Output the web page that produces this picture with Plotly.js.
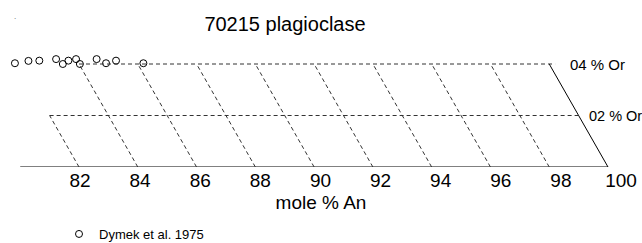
<!DOCTYPE html>
<html>
<head>
<meta charset="utf-8">
<script src="https://cdn.plot.ly/plotly-3.0.1.min.js"></script>
<style>html,body{margin:0;padding:0;background:#fff;}#chart{width:642px;height:243px;}</style>
</head>
<body>
<div id="chart"></div>
<script>
// ---- data ----
const anTicks = [82, 84, 86, 88, 90, 92, 94, 96, 98, 100];
const tickText = ['82', '84', '86', '88', '90', '92', '94', '96', '98', '100'];
const gridAn = [82, 84, 86, 88, 90, 92, 94, 96, 98];      // dashed iso-lines
const orLevels = [2, 4];                                   // mole % Or
const orLabels = ['02 % Or', '04 % Or'];
const dymekAn = [79.82, 80.28, 80.65, 81.22, 81.45, 81.64, 81.90, 82.03, 82.60, 82.92, 83.26, 84.19];
const dymekOr = [4.03, 4.12, 4.13, 4.19, 4.00, 4.13, 4.19, 4.00, 4.19, 4.03, 4.13, 4.03];
const seriesName = 'Dymek et al. 1975';

// ---- geometry helpers ----
const W = 642, H = 243;
const FONT = 'Liberation Sans, Arial, sans-serif';
const pxPerAn = (608 - 79) / 18;   // An 82 at px 79, An 100 at px 608
const pxPerOr = (167 - 64) / 4;    // Or 0 at px 167, Or 4 at px 64
const yTop = 4.5;

const dash = {color: '#333', width: 1, dash: '4px,3px'};
const shapes = [];
// baseline (0 % Or)
shapes.push({type: 'line', xref: 'x', yref: 'y', x0: 80, y0: 0, x1: 100, y1: 0, line: {color: '#000', width: 1}});
// right solid edge
shapes.push({type: 'line', xref: 'x', yref: 'y', x0: 100, y0: 0, x1: 98, y1: 4, line: {color: '#000', width: 1}});
// slanted dashed lines
gridAn.forEach(a => {
  const top = Math.min(4, a - 80);
  shapes.push({type: 'line', xref: 'x', yref: 'y', x0: a, y0: 0, x1: a - top / 2, y1: top, line: dash});
});
// horizontal dashed lines
orLevels.forEach(L => {
  shapes.push({type: 'line', xref: 'x', yref: 'y', x0: 80 + L / 2, y0: L, x1: 100 - L / 2 + (L === 4 ? 0.2 : 0), y1: L, line: dash});
});

const annotations = orLevels.map((L, i) => ({
  xref: 'x', yref: 'y', x: 100 - L / 2, y: L, xanchor: 'left', yanchor: 'middle',
  xshift: L === 4 ? 19 : 8.5, text: orLabels[i], showarrow: false,
  font: {family: FONT, size: L === 4 ? 15 : 14.5, color: '#000'}
}));
annotations.push({xref: 'paper', yref: 'paper', x: 12 / W, y: 1 - 10 / H, text: '.', showarrow: false,
  font: {family: FONT, size: 8, color: '#555'}});

const traces = [
  {
    type: 'scatter', mode: 'markers', name: seriesName,
    x: dymekAn, y: dymekOr, xaxis: 'x', yaxis: 'y', cliponaxis: false,
    marker: {symbol: 'circle-open', size: 7, color: '#000', line: {width: 1, color: '#000'}},
    hoverinfo: 'x+y'
  },
  {
    type: 'scatter', mode: 'markers', x: anTicks, y: anTicks.map(() => null),
    xaxis: 'x2', yaxis: 'y', showlegend: false, hoverinfo: 'skip'
  }
];

const layout = {
  width: W, height: H,
  margin: {l: 0, r: 0, t: 0, b: 0, autoexpand: false},
  paper_bgcolor: '#fff', plot_bgcolor: 'rgba(0,0,0,0)',
  font: {family: FONT, color: '#000'},
  title: {text: '70215 plagioclase', font: {family: FONT, size: 20, color: '#000'},
    x: 285 / W, xanchor: 'center', y: 1 - 24 / H, yanchor: 'middle'},
  xaxis: {
    domain: [0, 1], range: [82 - 79 / pxPerAn, 82 + (W - 79) / pxPerAn],
    showline: false, showgrid: false, zeroline: false, showticklabels: false, ticks: '',
    title: {text: 'mole % An', font: {family: FONT, size: 19, color: '#000'}, standoff: 28}
  },
  xaxis2: {
    domain: [80 / W, 621 / W], range: [82, 100], anchor: 'y',
    tickmode: 'array', tickvals: anTicks, ticktext: tickText,
    tickfont: {family: FONT, size: 19, color: '#000'},
    showline: false, showgrid: false, zeroline: false, ticks: ''
  },
  yaxis: {
    domain: [1 - 167 / H, 1 - (167 - yTop * pxPerOr) / H], range: [0, yTop],
    showline: false, showgrid: false, zeroline: false, showticklabels: false, ticks: ''
  },
  showlegend: true,
  legend: {orientation: 'h', x: 59 / W, xanchor: 'left', y: 1 - 234 / H, yanchor: 'middle',
    font: {family: FONT, size: 13, color: '#000'}, bgcolor: 'rgba(0,0,0,0)'},
  shapes: shapes,
  annotations: annotations
};

Plotly.newPlot('chart', traces, layout, {displayModeBar: false, staticPlot: true});
</script>
</body>
</html>
